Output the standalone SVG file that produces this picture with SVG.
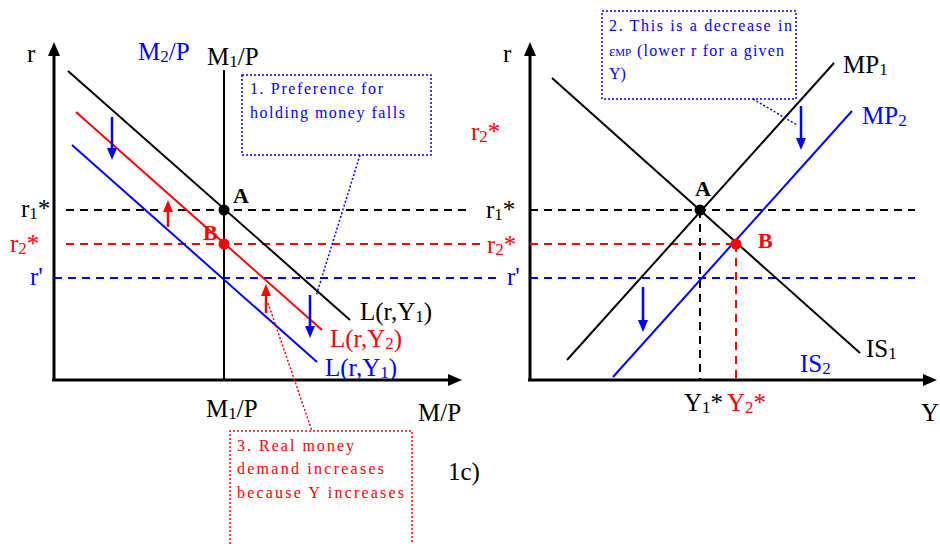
<svg xmlns="http://www.w3.org/2000/svg" width="940" height="544" viewBox="0 0 940 544">
<style>
text{font-family:"Liberation Serif","Times New Roman",serif;font-size:25px}
.k{fill:#000}.r{fill:#ff0000}.b{fill:#0000ff}
.bold{font-weight:bold;font-size:22px}
.note{font-size:16px}
.ax{stroke:#000;stroke-width:3;fill:none}
.ln{stroke-width:2;fill:none}
.dk{stroke:#000;stroke-width:2;stroke-dasharray:8 6;fill:none}
.dr{stroke:#ff0000;stroke-width:2;stroke-dasharray:8 6;fill:none}
.db{stroke:#0000ff;stroke-width:2;stroke-dasharray:8 6;fill:none}
.box{fill:none;stroke-width:1.5;stroke-dasharray:2 2}
.arb{stroke:#0000ff;stroke-width:2.5;fill:none}
.arr{stroke:#ff0000;stroke-width:2.5;fill:none}
</style>
<defs>
<marker id="mAx" viewBox="0 0 14 12" markerWidth="14" markerHeight="12" refX="1" refY="6" orient="auto" markerUnits="userSpaceOnUse"><path d="M0,0 L14,6 L0,12 z" fill="#000"/></marker>
<marker id="mB" viewBox="0 0 12 10" markerWidth="12" markerHeight="10" refX="1" refY="5" orient="auto" markerUnits="userSpaceOnUse"><path d="M0,0 L12,5 L0,10 z" fill="#0000ff"/></marker>
<marker id="mR" viewBox="0 0 12 10" markerWidth="12" markerHeight="10" refX="1" refY="5" orient="auto" markerUnits="userSpaceOnUse"><path d="M0,0 L12,5 L0,10 z" fill="#ff0000"/></marker>
</defs>

<!-- LEFT PANEL: money market -->
<g id="left-axes">
<line class="ax" x1="54" y1="381" x2="54" y2="55" marker-end="url(#mAx)"/>
<line class="ax" x1="52" y1="380" x2="449" y2="380" marker-end="url(#mAx)"/>
<text class="k" x="27" y="62">r</text>
<text class="k" x="418" y="421">M/P</text>
</g>
<g id="left-reference-lines">
<line class="dk" x1="66" y1="210" x2="472" y2="210"/>
<line class="dr" x1="66" y1="244" x2="484" y2="244"/>
<line class="db" x1="54" y1="278" x2="498" y2="278"/>
<text class="k" x="21" y="217">r<tspan font-size="17" dy="2">1</tspan><tspan dy="-2">*</tspan></text>
<text class="r" x="10" y="252">r<tspan font-size="17" dy="2">2</tspan><tspan dy="-2">*</tspan></text>
<text class="b" x="30" y="285">r'</text>
</g>
<g id="money-supply">
<line stroke="#000" stroke-width="2" x1="224" y1="70" x2="224" y2="380"/>
<text class="k" x="207" y="65">M<tspan font-size="17" dy="2">1</tspan><tspan dy="-2">/P</tspan></text>
<text class="k" x="206" y="417">M<tspan font-size="17" dy="2">1</tspan><tspan dy="-2">/P</tspan></text>
<text class="b" x="138" y="60">M<tspan font-size="17" dy="2">2</tspan><tspan dy="-2">/P</tspan></text>
</g>
<g id="L-Y1-black">
<line class="ln" stroke="#000" x1="68" y1="71" x2="350" y2="320"/>
<text class="k" x="360" y="320">L(r,Y<tspan font-size="17" dy="2">1</tspan><tspan dy="-2">)</tspan></text>
</g>
<g id="L-Y2-red">
<line class="ln" stroke="#ff0000" x1="76" y1="112" x2="322" y2="330"/>
<text class="r" x="330" y="347">L(r,Y<tspan font-size="17" dy="2">2</tspan><tspan dy="-2">)</tspan></text>
</g>
<g id="L-Y1-blue">
<line class="ln" stroke="#0000ff" x1="72" y1="145" x2="317" y2="362"/>
<text class="b" x="325" y="376">L(r,Y<tspan font-size="17" dy="2">1</tspan><tspan dy="-2">)</tspan></text>
</g>
<g id="point-A-left">
<circle cx="224" cy="210" r="5.5" fill="#000"/>
<text class="k bold" x="233" y="203">A</text>
</g>
<g id="point-B-left">
<circle cx="224" cy="244" r="5.5" fill="#ff0000"/>
<text class="r bold" x="203" y="240">B</text>
</g>
<g id="callout-1">
<rect class="box" stroke="#0000ff" x="242" y="75" width="189" height="80"/>
<text class="b note" x="250" y="94" textLength="133" lengthAdjust="spacing">1. Preference for</text>
<text class="b note" x="250" y="118" textLength="155" lengthAdjust="spacing">holding money falls</text>
</g>
<g id="callout-3">
<path class="box" stroke="#ff0000" d="M230,544 L230,431 L412,431 L412,544"/>
<text class="r note" x="237" y="451" textLength="117" lengthAdjust="spacing">3. Real money</text>
<text class="r note" x="237" y="474" textLength="147" lengthAdjust="spacing">demand increases</text>
<text class="r note" x="237" y="498" textLength="167" lengthAdjust="spacing">because Y increases</text>
</g>
<text class="k" x="448" y="480">1c)</text>

<!-- RIGHT PANEL: IS-MP -->
<g id="right-axes">
<line class="ax" x1="530" y1="381" x2="530" y2="55" marker-end="url(#mAx)"/>
<line class="ax" x1="528" y1="380" x2="924" y2="380" marker-end="url(#mAx)"/>
<text class="k" x="503" y="62">r</text>
<text class="k" x="921" y="421">Y</text>
</g>
<g id="right-reference-lines">
<line class="dk" x1="530" y1="210" x2="915" y2="210"/>
<line class="dr" x1="530" y1="244" x2="736" y2="244"/>
<line class="db" x1="530" y1="278" x2="915" y2="278"/>
<line class="dk" x1="700" y1="210" x2="700" y2="380"/>
<line class="dr" x1="736" y1="244" x2="736" y2="380"/>
<text class="k" x="486" y="218">r<tspan font-size="17" dy="2">1</tspan><tspan dy="-2">*</tspan></text>
<text class="r" x="487" y="253">r<tspan font-size="17" dy="2">2</tspan><tspan dy="-2">*</tspan></text>
<text class="b" x="507" y="285">r'</text>
<text class="r" x="471" y="140">r<tspan font-size="17" dy="2">2</tspan><tspan dy="-2">*</tspan></text>
<text class="k" x="684" y="411">Y<tspan font-size="17" dy="2">1</tspan><tspan dy="-2">*</tspan></text>
<text class="r" x="727" y="411">Y<tspan font-size="17" dy="2">2</tspan><tspan dy="-2">*</tspan></text>
</g>
<g id="MP1">
<line class="ln" stroke="#000" x1="567" y1="360" x2="834" y2="63"/>
<text class="k" x="843" y="73">MP<tspan font-size="17" dy="2">1</tspan></text>
</g>
<g id="MP2">
<line class="ln" stroke="#0000ff" x1="613" y1="377" x2="852" y2="111"/>
<text class="b" x="862" y="124">MP<tspan font-size="17" dy="2">2</tspan></text>
</g>
<g id="IS1">
<line class="ln" stroke="#000" x1="552" y1="78" x2="860" y2="353"/>
<text class="k" x="866" y="357">IS<tspan font-size="17" dy="2">1</tspan></text>
</g>
<text id="IS2" class="b" x="800" y="372">IS<tspan font-size="17" dy="2">2</tspan></text>
<g id="point-A-right">
<circle cx="700" cy="210" r="5.5" fill="#000"/>
<text class="k bold" x="695" y="196">A</text>
</g>
<g id="point-B-right">
<circle cx="736" cy="244" r="5.5" fill="#ff0000"/>
<text class="r bold" x="758" y="248">B</text>
</g>
<g id="callout-2">
<rect class="box" stroke="#0000ff" x="602" y="11" width="194" height="88"/>
<text class="b note" x="609" y="31" textLength="183" lengthAdjust="spacing">2. This is a decrease in</text>
<text class="b note" x="609" y="56"><tspan font-size="15">ε</tspan><tspan font-size="11">MP</tspan><tspan x="637" textLength="147" lengthAdjust="spacing">(lower r for a given</tspan></text>
<text class="b note" x="609" y="79">Y)</text>
</g>

<!-- connectors: shift arrows and callout leaders -->
<g id="connectors">
<line class="arb" x1="112" y1="117" x2="112" y2="149" marker-end="url(#mB)"/>
<line class="arb" x1="310" y1="295" x2="310" y2="327" marker-end="url(#mB)"/>
<line class="arr" x1="168" y1="227" x2="168" y2="211" marker-end="url(#mR)"/>
<line class="arr" x1="266" y1="313" x2="266" y2="295" marker-end="url(#mR)"/>
<line class="arb" x1="801" y1="106" x2="801" y2="139" marker-end="url(#mB)"/>
<line class="arb" x1="643" y1="287" x2="643" y2="321" marker-end="url(#mB)"/>
<line class="box" stroke="#0000ff" x1="360" y1="155" x2="316" y2="296"/>
<line class="box" stroke="#ff0000" x1="268" y1="303" x2="312" y2="431"/>
<line class="box" stroke="#0000ff" x1="753" y1="99" x2="797" y2="125"/>
</g>
</svg>
